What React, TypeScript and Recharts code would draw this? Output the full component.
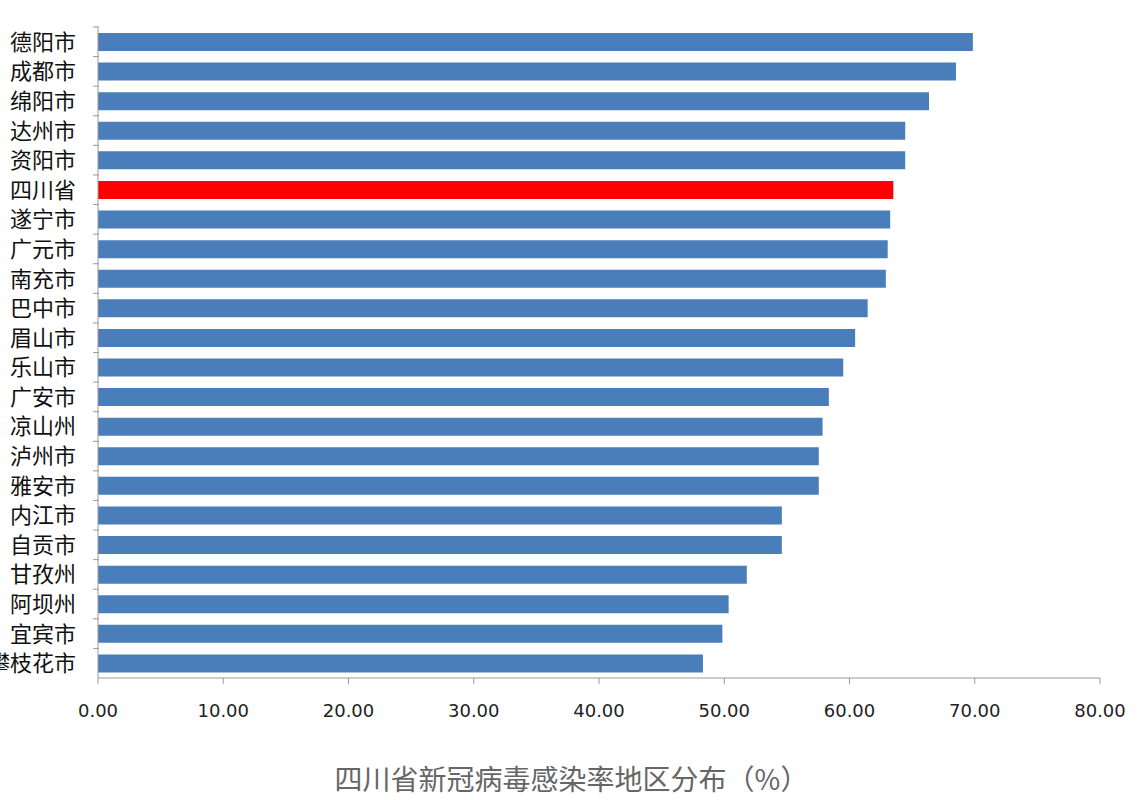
import React from "react";
import { BarChart, Bar, XAxis, YAxis, Cell } from "recharts";

const regions = ["德阳市","成都市","绵阳市","达州市","资阳市","四川省","遂宁市","广元市","南充市","巴中市","眉山市","乐山市","广安市","凉山州","泸州市","雅安市","内江市","自贡市","甘孜州","阿坝州","宜宾市","攀枝花市"];
const rates = [69.85,68.5,66.35,64.45,64.45,63.5,63.25,63.05,62.9,61.45,60.45,59.5,58.35,57.85,57.55,57.55,54.6,54.6,51.8,50.35,49.85,48.3];
const xTicks = [0,10,20,30,40,50,60,70,80];
const highlight = "四川省";
const title = "四川省新冠病毒感染率地区分布（%）";

const data = regions.map((name, i) => ({ name, value: rates[i] }));

const YTick = (props: any) => {
  const { x, y, payload } = props;
  const half = 14.8;
  return (
    <g>
      <line x1={x + 3} x2={x + 9} y1={y - half} y2={y - half} stroke="#9a9a9a" />
      <text x={x - 14} y={y} dy={8} textAnchor="end" fontSize={22} fill="#111" fontFamily="'Noto Sans CJK SC', sans-serif">
        {payload.value}
      </text>
    </g>
  );
};

export default function App() {
  return (
    <div style={{ position: "absolute", left: 0, top: 0, width: 1143, height: 800, background: "#fff", overflow: "hidden" }}>
      <BarChart
        width={1143}
        height={800}
        data={data}
        layout="vertical"
        margin={{ top: 27, right: 43, bottom: 80, left: 0 }}
      >
        <XAxis
          type="number"
          domain={[0, 80]}
          ticks={xTicks}
          tickFormatter={(v: number) => v.toFixed(2)}
          stroke="#9a9a9a"
          tickSize={6}
          tick={{ fill: "#222", fontSize: 18, fontFamily: "'DejaVu Sans', sans-serif" }}
          tickMargin={20}
          height={42}
        />
        <YAxis
          type="category"
          dataKey="name"
          width={98}
          stroke="#9a9a9a"
          tickLine={false}
          tick={<YTick />}
          interval={0}
        />
        <Bar dataKey="value" barSize={18} isAnimationActive={false}>
          {data.map((d) => (
            <Cell key={d.name} fill={d.name === highlight ? "#ff0000" : "#4a7ebb"} />
          ))}
        </Bar>
      </BarChart>
      <div
        style={{
          position: "absolute",
          left: 0,
          width: 1143,
          top: 763,
          textAlign: "center",
          fontSize: 28,
          color: "#666",
          fontFamily: "'Noto Sans CJK SC', sans-serif",
          lineHeight: "30px",
        }}
      >
        {title}
      </div>
    </div>
  );
}
